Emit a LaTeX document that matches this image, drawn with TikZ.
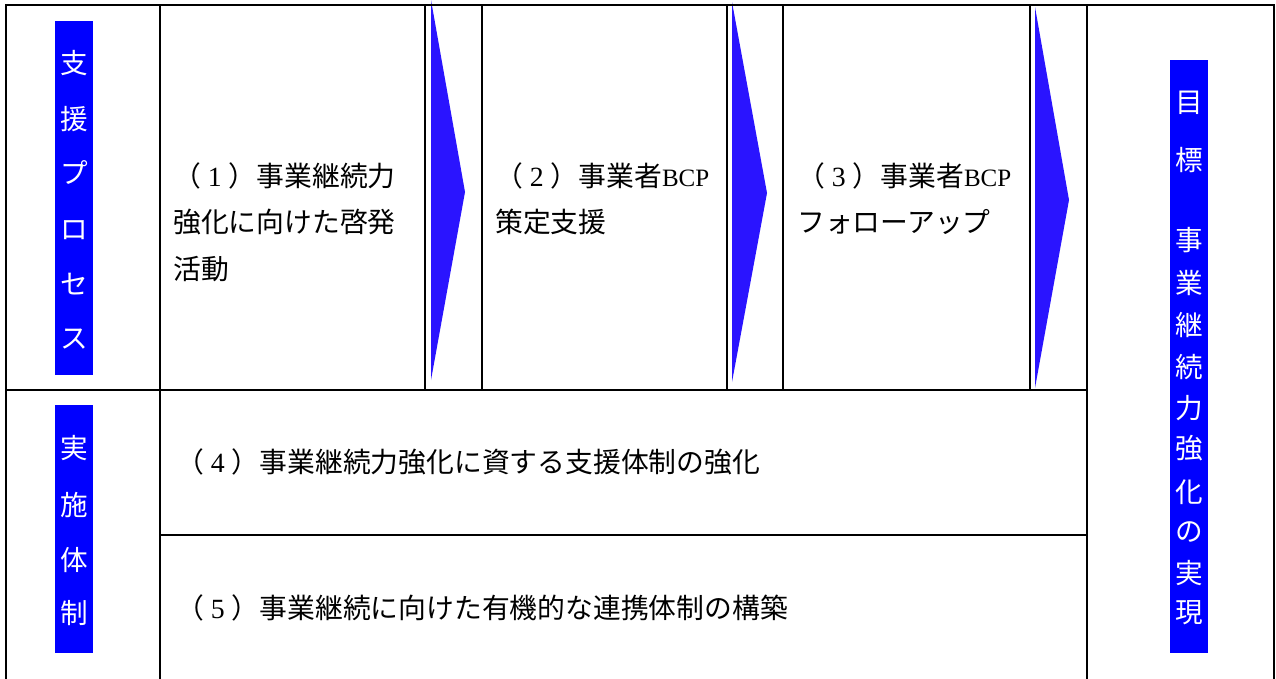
\documentclass[tikz,border=0pt]{standalone}
\usepackage{fontspec}
\setmainfont{Liberation Serif}
\newfontfamily\jp{Noto Sans CJK JP}
\definecolor{lblblue}{RGB}{0,0,255}
\definecolor{arrblue}{RGB}{42,20,255}
\newcommand{\dg}[1]{\makebox[1em]{\rmfamily #1}}
\newcommand{\bcp}{{\rmfamily\fontsize{25}{30}\selectfont BCP}}
\begin{document}
\begin{tikzpicture}[x=1pt,y=-1pt,
  grid/.style={line width=2pt, black, line cap=rect},
  celltext/.style={anchor=base west, inner sep=0pt, text=black, font=\jp\fontsize{27.8}{30}\selectfont},
  lbl/.style={anchor=center, inner sep=0pt, text=white, font=\jp\fontsize{27.6}{30}\selectfont},
  labelbox/.style={fill=lblblue, draw=none, inner sep=0pt},
  flow/.style={fill=arrblue, draw=none}]
\useasboundingbox (0,0) rectangle (1276,678);
\fill[white] (0,0) rectangle (1276,678);
% flow arrows
\fill[flow] (431,0) -- (465,192) -- (431,380) -- cycle;
\fill[flow] (732,2) -- (767,193) -- (732,382) -- cycle;
\fill[flow] (1035,7) -- (1069,200) -- (1035,388) -- cycle;
% grid lines
\draw[grid] (6,5) -- (1274,5);
\draw[grid] (6,5) -- (6,680);
\draw[grid] (160,5) -- (160,680);
\draw[grid] (1087,5) -- (1087,680);
\draw[grid] (1274,5) -- (1274,680);
\draw[grid] (425,5) -- (425,390);
\draw[grid] (482,5) -- (482,390);
\draw[grid] (727,5) -- (727,390);
\draw[grid] (783,5) -- (783,390);
\draw[grid] (1030,5) -- (1030,390);
\draw[grid] (6,390) -- (1087,390);
\draw[grid] (160,535) -- (1087,535);
% label boxes
\node[labelbox, minimum width=38pt, minimum height=354pt] (procbox) at (74,198) {};
\node[labelbox, minimum width=38pt, minimum height=248pt] (implbox) at (74,529) {};
\node[labelbox, minimum width=38pt, minimum height=593pt] (goalbox) at (1189,356.5) {};
\foreach \c/\y [count=\i] in {支/63,援/119,プ/173,ロ/230,セ/284,ス/339}
  \node[lbl] (p\i) at (74,\y) {\c};
\foreach \c/\y [count=\i] in {実/448,施/505,体/560,制/613}
  \node[lbl] (m\i) at (74,\y) {\c};
\foreach \c/\y [count=\i] in {目/103,標/160,事/240,業/283,継/325,続/367,力/408,強/448,化/492,の/532,実/573,現/613}
  \node[lbl] (g\i) at (1189,\y) {\c};
% cell texts
\node[celltext] (c1a) at (173,186.5) {（\dg{1}）事業継続力};
\node[celltext] (c1b) at (173,232) {強化に向けた啓発};
\node[celltext] (c1c) at (173,279) {活動};
\node[celltext] (c2a) at (495,186.5) {（\dg{2}）事業者\bcp};
\node[celltext] (c2b) at (495,232.5) {策定支援};
\node[celltext] (c3a) at (797,186.5) {（\dg{3}）事業者\bcp};
\node[celltext] (c3b) at (797,232.5) {フォローアップ};
\node[celltext] (c4) at (176,472) {（\dg{4}）事業継続力強化に資する支援体制の強化};
\node[celltext] (c5) at (176,618) {（\dg{5}）事業継続に向けた有機的な連携体制の構築};
\end{tikzpicture}
\end{document}
